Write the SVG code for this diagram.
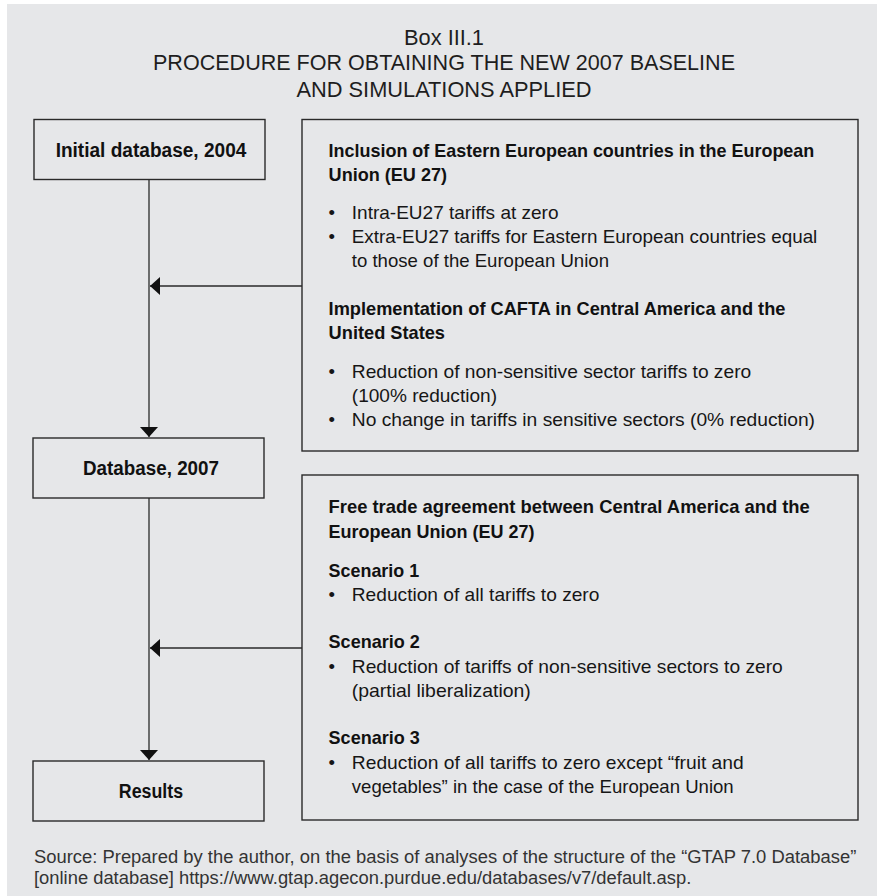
<svg xmlns="http://www.w3.org/2000/svg" width="877" height="896" viewBox="0 0 877 896">
  <style>
    .panel { fill: #e6e7e9; }
    .box { fill: none; stroke: #2a2a2a; stroke-width: 1.4; }
    .conn { fill: none; stroke: #2a2a2a; stroke-width: 1.3; }
    .title { font-family: "Liberation Sans", Arial, sans-serif; font-size: 21.5px; fill: #1e1e1e; }
    .label { font-family: "Liberation Sans", Arial, sans-serif; font-size: 20px; font-weight: bold; fill: #111; }
    .head { font-family: "Liberation Sans", Arial, sans-serif; font-size: 18.5px; font-weight: bold; fill: #111; }
    .body { font-family: "Liberation Sans", Arial, sans-serif; font-size: 18.5px; fill: #161616; }
    .note { font-family: "Liberation Sans", Arial, sans-serif; font-size: 18.3px; fill: #333; }
  </style>
  <defs>
    <marker id="arrow" markerUnits="userSpaceOnUse" markerWidth="11" markerHeight="18" refX="10" refY="9" orient="auto">
      <path d="M0,0 L10,9 L0,18 Z" fill="#111"/>
    </marker>
  </defs>

  <rect x="0" y="0" width="877" height="896" fill="#ffffff"/>
  <rect class="panel" x="7" y="4" width="870" height="892"/>

  <!-- heading -->
  <g id="title">
    <text class="title" x="444" y="45" text-anchor="middle" textLength="80" lengthAdjust="spacingAndGlyphs">Box III.1</text>
    <text class="title" x="444" y="70" text-anchor="middle" textLength="582" lengthAdjust="spacingAndGlyphs">PROCEDURE FOR OBTAINING THE NEW 2007 BASELINE</text>
    <text class="title" x="444" y="96.5" text-anchor="middle" textLength="295" lengthAdjust="spacingAndGlyphs">AND SIMULATIONS APPLIED</text>
  </g>

  <!-- flow connectors -->
  <g id="connectors">
    <path class="conn" d="M149,179 V437" marker-end="url(#arrow)"/>
    <path class="conn" d="M302,286 H150" marker-end="url(#arrow)"/>
    <path class="conn" d="M149,498 V760" marker-end="url(#arrow)"/>
    <path class="conn" d="M302,648 H150" marker-end="url(#arrow)"/>
  </g>

  <g id="initial-database">
    <rect class="box" x="34" y="119.5" width="231" height="60"/>
    <text class="label" x="151" y="157.3" text-anchor="middle" textLength="190.7" lengthAdjust="spacingAndGlyphs">Initial database, 2004</text>
  </g>

  <g id="database-2007">
    <rect class="box" x="33" y="438" width="231" height="60"/>
    <text class="label" x="151" y="474.7" text-anchor="middle" textLength="136" lengthAdjust="spacingAndGlyphs">Database, 2007</text>
  </g>

  <g id="results">
    <rect class="box" x="33" y="761" width="231" height="60"/>
    <text class="label" x="151" y="797.7" text-anchor="middle" textLength="64.3" lengthAdjust="spacingAndGlyphs">Results</text>
  </g>

  <g id="baseline-adjustments">
    <rect class="box" x="302" y="119.5" width="556" height="331.5"/>
    <text class="head" x="328.6" y="156.7" textLength="485.7" lengthAdjust="spacingAndGlyphs">Inclusion of Eastern European countries in the European</text>
    <text class="head" x="328.6" y="180.7" textLength="118.4" lengthAdjust="spacingAndGlyphs">Union (EU 27)</text>
    <text class="body" x="328.6" y="219.3">•</text>
    <text class="body" x="351.8" y="219.3" textLength="206.7" lengthAdjust="spacingAndGlyphs">Intra-EU27 tariffs at zero</text>
    <text class="body" x="328.6" y="243.3">•</text>
    <text class="body" x="351.8" y="243.3" textLength="465.5" lengthAdjust="spacingAndGlyphs">Extra-EU27 tariffs for Eastern European countries equal</text>
    <text class="body" x="351.8" y="266.9" textLength="257.2" lengthAdjust="spacingAndGlyphs">to those of the European Union</text>
    <text class="head" x="328.6" y="315" textLength="456.8" lengthAdjust="spacingAndGlyphs">Implementation of CAFTA in Central America and the</text>
    <text class="head" x="328.6" y="339" textLength="116.4" lengthAdjust="spacingAndGlyphs">United States</text>
    <text class="body" x="328.6" y="378.3">•</text>
    <text class="body" x="351.8" y="378.3" textLength="399.4" lengthAdjust="spacingAndGlyphs">Reduction of non-sensitive sector tariffs to zero</text>
    <text class="body" x="351.8" y="401.9" textLength="145.2" lengthAdjust="spacingAndGlyphs">(100% reduction)</text>
    <text class="body" x="328.6" y="426.3">•</text>
    <text class="body" x="351.8" y="426.3" textLength="463.2" lengthAdjust="spacingAndGlyphs">No change in tariffs in sensitive sectors (0% reduction)</text>
  </g>

  <g id="fta-scenarios">
    <rect class="box" x="302" y="475" width="556" height="345"/>
    <text class="head" x="328.6" y="513.3" textLength="481.2" lengthAdjust="spacingAndGlyphs">Free trade agreement between Central America and the</text>
    <text class="head" x="328.6" y="537.7" textLength="206" lengthAdjust="spacingAndGlyphs">European Union (EU 27)</text>
    <text class="head" x="328.6" y="576.7" textLength="90.6" lengthAdjust="spacingAndGlyphs">Scenario 1</text>
    <text class="body" x="328.6" y="601">•</text>
    <text class="body" x="351.8" y="601" textLength="247.6" lengthAdjust="spacingAndGlyphs">Reduction of all tariffs to zero</text>
    <text class="head" x="328.6" y="648.3" textLength="91.2" lengthAdjust="spacingAndGlyphs">Scenario 2</text>
    <text class="body" x="328.6" y="672.7">•</text>
    <text class="body" x="351.8" y="672.7" textLength="431" lengthAdjust="spacingAndGlyphs">Reduction of tariffs of non-sensitive sectors to zero</text>
    <text class="body" x="351.8" y="696.7" textLength="179" lengthAdjust="spacingAndGlyphs">(partial liberalization)</text>
    <text class="head" x="328.6" y="744" textLength="91.2" lengthAdjust="spacingAndGlyphs">Scenario 3</text>
    <text class="body" x="328.6" y="769.3">•</text>
    <text class="body" x="351.8" y="769.3" textLength="391.9" lengthAdjust="spacingAndGlyphs">Reduction of all tariffs to zero except “fruit and</text>
    <text class="body" x="351.8" y="792.7" textLength="381.9" lengthAdjust="spacingAndGlyphs">vegetables” in the case of the European Union</text>
  </g>

  <!-- source note -->
  <g id="source">
    <text class="note" x="34" y="862.7" textLength="822.3" lengthAdjust="spacingAndGlyphs">Source: Prepared by the author, on the basis of analyses of the structure of the “GTAP 7.0 Database”</text>
    <text class="note" x="34" y="884.3" textLength="657.3" lengthAdjust="spacingAndGlyphs">[online database] https://www.gtap.agecon.purdue.edu/databases/v7/default.asp.</text>
  </g>
</svg>
